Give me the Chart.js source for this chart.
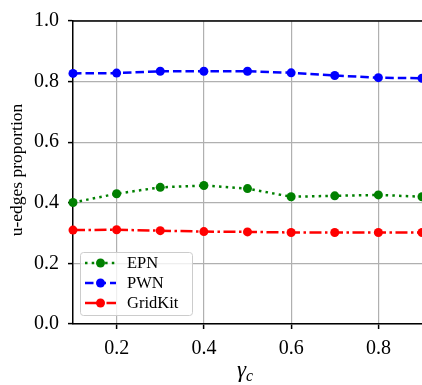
<!DOCTYPE html>
<html>
<head>
<meta charset="utf-8">
<script src="https://cdn.jsdelivr.net/npm/chart.js@4/dist/chart.umd.min.js"></script>
<style>
  body { margin: 0; background: #fff; }
  canvas { display: block; }
</style>
</head>
<body>
<canvas id="myChart" width="422" height="385"></canvas>
<script>
const gammaC = [0.1, 0.2, 0.3, 0.4, 0.5, 0.6, 0.7, 0.8, 0.9];
const epn = [0.401, 0.430, 0.451, 0.457, 0.447, 0.420, 0.423, 0.426, 0.420];
const pwn = [0.827, 0.828, 0.834, 0.834, 0.834, 0.829, 0.820, 0.813, 0.811];
const gridkit = [0.310, 0.311, 0.308, 0.305, 0.304, 0.302, 0.302, 0.302, 0.302];
const xTicks = [0.2, 0.4, 0.6, 0.8];
const yTicks = [0.0, 0.2, 0.4, 0.6, 0.8, 1.0];
const seriesNames = ["EPN", "PWN", "GridKit"];

const SERIF = "'Liberation Serif', 'DejaVu Serif', serif";

function pts(vals) {
  return gammaC.map((x, i) => ({ x: x, y: vals[i] }));
}

function lineSet(label, vals, color, dash) {
  return {
    label: label,
    data: pts(vals),
    borderColor: color,
    backgroundColor: color,
    borderWidth: 2.5,
    borderDash: dash,
    pointRadius: 4.5,
    pointBorderWidth: 0,
    pointBackgroundColor: color,
    tension: 0,
    clip: false,
  };
}

// top spine, axis titles and the legend box
const extras = {
  id: "extras",
  afterDatasetsDraw(chart) {
    const ctx = chart.ctx;
    const a = chart.chartArea;
    ctx.save();
    ctx.strokeStyle = "#000";
    ctx.lineWidth = 1.5;
    ctx.beginPath();
    ctx.moveTo(a.left, a.top);
    ctx.lineTo(a.right, a.top);
    ctx.stroke();

    // legend
    const bx = 80.5, by = 252.5, bw = 112, bh = 63;
    ctx.beginPath();
    ctx.roundRect(bx, by, bw, bh, 3);
    ctx.fillStyle = "rgba(255,255,255,0.8)";
    ctx.fill();
    ctx.strokeStyle = "#cccccc";
    ctx.lineWidth = 1;
    ctx.stroke();
    chart.data.datasets.forEach((ds, i) => {
      const yy = 263 + i * 20;
      ctx.strokeStyle = ds.borderColor;
      ctx.lineWidth = ds.borderWidth;
      ctx.setLineDash(ds.borderDash);
      ctx.beginPath();
      ctx.moveTo(85, yy);
      ctx.lineTo(116, yy);
      ctx.stroke();
      ctx.setLineDash([]);
      ctx.fillStyle = ds.borderColor;
      ctx.beginPath();
      ctx.arc(100.5, yy, 4.5, 0, Math.PI * 2);
      ctx.fill();
      ctx.fillStyle = "#000";
      ctx.font = "16.5px " + SERIF;
      ctx.textAlign = "left";
      ctx.textBaseline = "middle";
      ctx.fillText(ds.label, 127, yy + 1);
    });

    // y title
    ctx.save();
    ctx.translate(17, 170);
    ctx.rotate(-Math.PI / 2);
    ctx.fillStyle = "#000";
    ctx.font = "17.5px " + SERIF;
    ctx.textAlign = "center";
    ctx.textBaseline = "middle";
    ctx.fillText("u-edges proportion", 0, 0);
    ctx.restore();

    // x title
    ctx.fillStyle = "#000";
    ctx.textBaseline = "alphabetic";
    ctx.textAlign = "left";
    ctx.font = "italic 23px " + SERIF;
    ctx.fillText("γ", 237, 377);
    const gw = ctx.measureText("γ").width;
    ctx.font = "italic 16px " + SERIF;
    ctx.fillText("c", 237 + gw, 381);
    ctx.restore();
  }
};

new Chart(document.getElementById("myChart"), {
  type: "line",
  data: {
    datasets: [
      lineSet(seriesNames[0], epn, "#008000", [2.5, 4.2]),
      lineSet(seriesNames[1], pwn, "#0000ff", [8.5, 4]),
      lineSet(seriesNames[2], gridkit, "#ff0000", [12, 3.5, 2.5, 3.5]),
    ],
  },
  options: {
    responsive: false,
    animation: false,
    layout: { padding: { top: 15, right: 0, left: 0, bottom: 0 }, autoPadding: false },
    plugins: { legend: { display: false }, tooltip: { enabled: false } },
    scales: {
      x: {
        type: "linear",
        min: 0.1,
        max: 0.9,
        afterBuildTicks: (s) => { s.ticks = xTicks.map(v => ({ value: v })); },
        afterFit: (s) => { s.height = 61; },
        grid: { color: "#b0b0b0", lineWidth: 1.2, tickColor: "#000", tickLength: 5, tickWidth: 1.5 },
        border: { color: "#000", width: 1.5 },
        ticks: {
          color: "#000",
          padding: 8,
          maxRotation: 0,
          font: { family: SERIF, size: 20 },
          callback: (v) => v.toFixed(1),
        },
      },
      y: {
        min: 0,
        max: 1,
        afterBuildTicks: (s) => { s.ticks = yTicks.map(v => ({ value: v })); },
        afterFit: (s) => { s.width = 73; },
        grid: { color: "#b0b0b0", lineWidth: 1.2, tickColor: "#000", tickLength: 5, tickWidth: 1.5 },
        border: { color: "#000", width: 1.5 },
        ticks: {
          color: "#000",
          padding: 9,
          font: { family: SERIF, size: 20 },
          callback: (v) => v.toFixed(1),
        },
      },
    },
  },
  plugins: [extras],
});
</script>
</body>
</html>
